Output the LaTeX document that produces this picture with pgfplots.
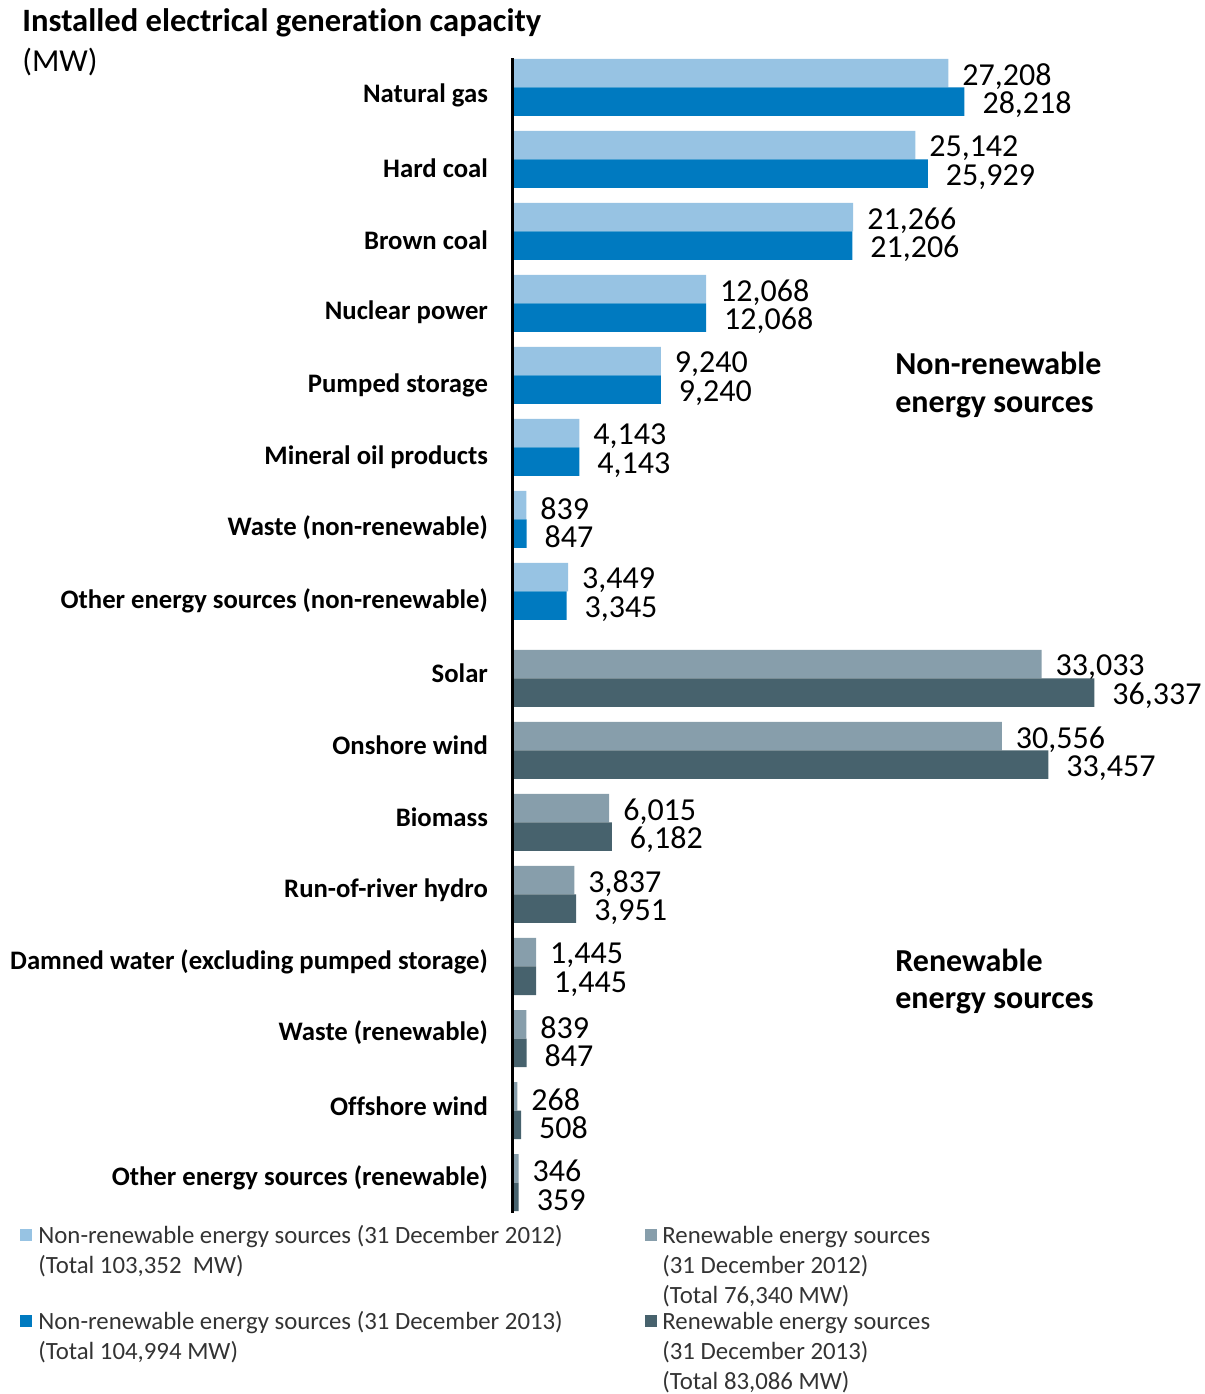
\documentclass[border=0pt]{standalone}
\usepackage{fontspec}
\setmainfont{Carlito}[Ligatures=NoCommon]
\usepackage{pgfplots}
\pgfplotsset{compat=1.18}
\definecolor{nrA}{HTML}{97C3E3}
\definecolor{nrB}{HTML}{007AC0}
\definecolor{reA}{HTML}{879EAB}
\definecolor{reB}{HTML}{47626D}
\definecolor{legtext}{HTML}{333333}
\begin{document}
\begin{tikzpicture}
\useasboundingbox (-256.5pt,-90.65pt) rectangle (346pt,606.35pt);
\begin{axis}[
  at={(0,0)}, anchor=south west,
  scale only axis, width=344pt, height=577.5pt,
  xmin=0, xmax=43000, ymin=-1212.7, ymax=-57.7,
  xbar, bar width=14.25pt,
  axis x line=none,
  axis y line=left,
  y axis line style={line width=1.5pt,-},
  ytick={-1178,-1106,-1033,-962,-890,-817,-745,-673,-601,-528,-457,-385,-312,-240,-168,-95},
  yticklabels={Other energy sources (renewable), Offshore wind, Waste (renewable), Damned water (excluding pumped storage), Run-of-river hydro, Biomass, Onshore wind, Solar, Other energy sources (non-renewable), Waste (non-renewable), Mineral oil products, Pumped storage, Nuclear power, Brown coal, Hard coal, Natural gas},
  major tick length=0pt,
  yticklabel style={font=\fontsize{13.35}{15}\selectfont\bfseries, xshift=-9pt},
  nodes near coords,
  nodes near coords style={font=\fontsize{16}{18}\selectfont, anchor=west, yshift=-1.5pt, text=black,
    /pgf/number format/1000 sep={,}, /pgf/number format/assume math mode=true},
  axis on top,
  clip=false,
]
\addplot[fill=nrA, draw=none, bar shift=7.125pt, every node near coord/.append style={xshift=3.5pt}] coordinates {
(27208,-87.5) (25142,-159.5) (21266,-231.5) (12068,-303.5) (9240,-375.5) (4143,-447.5) (839,-519.5) (3449,-591.5)};
\addplot[fill=nrB, draw=none, bar shift=-7.125pt, every node near coord/.append style={xshift=5.5pt}] coordinates {
(28218,-87.5) (25929,-159.5) (21206,-231.5) (12068,-303.5) (9240,-375.5) (4143,-447.5) (847,-519.5) (3345,-591.5)};
\addplot[fill=reA, draw=none, bar shift=7.125pt, every node near coord/.append style={xshift=3.5pt}] coordinates {
(33033,-678.5) (30556,-750.5) (6015,-822.5) (3837,-894.5) (1445,-966.5) (839,-1038.5) (268,-1110.5) (346,-1182.5)};
\addplot[fill=reB, draw=none, bar shift=-7.125pt, every node near coord/.append style={xshift=5.5pt}] coordinates {
(36337,-678.5) (33457,-750.5) (6182,-822.5) (3951,-894.5) (1445,-966.5) (847,-1038.5) (508,-1110.5) (359,-1182.5)};
\end{axis}
% title
\node[anchor=base west, inner sep=0pt, font=\fontsize{16.3}{18}\selectfont\bfseries] at (-245.5pt,590.35pt) {Installed electrical generation capacity};
\node[anchor=base west, inner sep=0pt, font=\fontsize{16}{18}\selectfont] at (-245.5pt,570.6pt) {(MW)};
% annotations
\node[anchor=base west, inner sep=0pt, font=\fontsize{16}{18}\selectfont\bfseries] at (191pt,418.85pt) {Non-renewable};
\node[anchor=base west, inner sep=0pt, font=\fontsize{16}{18}\selectfont\bfseries] at (191pt,399.85pt) {energy sources};
\node[anchor=base west, inner sep=0pt, font=\fontsize{16}{18}\selectfont\bfseries] at (191pt,120.85pt) {Renewable};
\node[anchor=base west, inner sep=0pt, font=\fontsize{16}{18}\selectfont\bfseries] at (191pt,101.85pt) {energy sources};
% legend
\fill[nrA] (-246.5pt,-8.15pt) rectangle (-240.5pt,-14.15pt);
\fill[nrB] (-246.5pt,-51.15pt) rectangle (-240.5pt,-57.15pt);
\fill[reA] (66pt,-8.15pt) rectangle (72pt,-14.15pt);
\fill[reB] (66pt,-51.15pt) rectangle (72pt,-57.15pt);
\begin{scope}[every node/.style={anchor=base west, inner sep=0pt, text=legtext, font=\fontsize{12.4}{14}\selectfont}]
\node at (-237.5pt,-15.15pt) {Non-renewable energy sources (31 December 2012)};
\node at (-237.5pt,-30.15pt) {(Total 103,352~ MW)};
\node at (-237.5pt,-58.15pt) {Non-renewable energy sources (31 December 2013)};
\node at (-237.5pt,-73.15pt) {(Total 104,994 MW)};
\node at (74.5pt,-15.15pt) {Renewable energy sources};
\node at (74.5pt,-30.15pt) {(31 December 2012)};
\node at (74.5pt,-45.15pt) {(Total 76,340 MW)};
\node at (74.5pt,-58.15pt) {Renewable energy sources};
\node at (74.5pt,-73.15pt) {(31 December 2013)};
\node at (74.5pt,-88.15pt) {(Total 83,086 MW)};
\end{scope}
\end{tikzpicture}
\end{document}
